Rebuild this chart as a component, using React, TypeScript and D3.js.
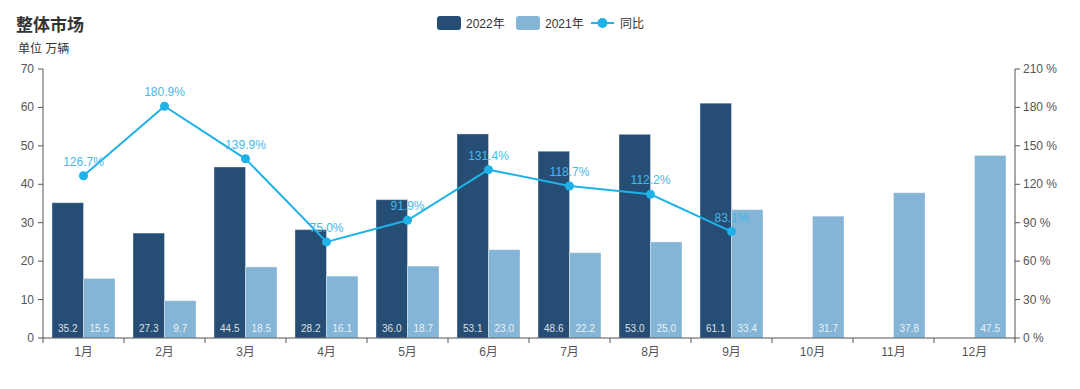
import React from "react";
import * as d3 from "d3";

const months = ["1月","2月","3月","4月","5月","6月","7月","8月","9月","10月","11月","12月"];
const sales2022: (number | null)[] = [35.2, 27.3, 44.5, 28.2, 36.0, 53.1, 48.6, 53.0, 61.1, null, null, null];
const sales2021 = [15.5, 9.7, 18.5, 16.1, 18.7, 23.0, 22.2, 25.0, 33.4, 31.7, 37.8, 47.5];
const yoy = [126.7, 180.9, 139.9, 75.0, 91.9, 131.4, 118.7, 112.2, 83.1];
const leftTicks = [0, 10, 20, 30, 40, 50, 60, 70];
const rightTicks = [0, 30, 60, 90, 120, 150, 180, 210];

const W = 1080, H = 389;
const M = { left: 43, right: 1015, top: 69, bottom: 338 };
const C22 = "#264e75";
const C21 = "#84b5d6";
const CL = "#1fb2e8";
const FONT = "'Liberation Sans', 'Noto Sans CJK SC', sans-serif";

export default function App() {
  const x = d3.scaleBand<string>().domain(months).range([M.left, M.right]).paddingInner(0).paddingOuter(0);
  const yL = d3.scaleLinear().domain([0, 70]).range([M.bottom, M.top]);
  const yR = d3.scaleLinear().domain([0, 210]).range([M.bottom, M.top]);
  const bw = x.bandwidth();
  const pad = 9;
  const barW = (bw - 2 * pad) / 2;
  const line = d3.line<number>().x((_, i) => x(months[i])! + bw / 2).y(d => yR(d));
  const axisColor = "#555";

  return (
    <svg width={W} height={H} style={{ position: "absolute", left: 0, top: 0, fontFamily: FONT }}>
      <rect width={W} height={H} fill="#fff" />
      <text x={16} y={31} fontSize={17} fontWeight="bold" fill="#333" fontFamily="'Noto Sans CJK SC', sans-serif">整体市场</text>
      <text x={18} y={53} fontSize={12} fill="#333">单位 万辆</text>

      {/* legend */}
      <g fontSize={12} fill="#333">
        <rect x={437} y={16} width={24} height={14} rx={3} fill={C22} />
        <text x={466} y={27.5}>2022年</text>
        <rect x={516} y={16} width={24} height={14} rx={3} fill={C21} />
        <text x={545} y={27.5}>2021年</text>
        <line x1={591} x2={614} y1={23} y2={23} stroke={CL} strokeWidth={2} />
        <circle cx={602.5} cy={23} r={5} fill={CL} />
        <text x={620} y={27.5}>同比</text>
      </g>

      {/* bars */}
      {months.map((m, i) => {
        const x0 = x(m)! + pad;
        const v22 = sales2022[i];
        const v21 = sales2021[i];
        return (
          <g key={m}>
            {v22 != null && (
              <g>
                <rect x={x0} y={yL(v22)} width={barW} height={yL(0) - yL(v22)} fill={C22} stroke="#ffffff" strokeOpacity={0.35} strokeWidth={1} />
                <text x={x0 + barW / 2} y={M.bottom - 6} textAnchor="middle" fontSize={10} fill="#fff" fillOpacity={0.85}>{v22.toFixed(1)}</text>
              </g>
            )}
            <rect x={x0 + barW} y={yL(v21)} width={barW} height={yL(0) - yL(v21)} fill={C21} stroke="#ffffff" strokeOpacity={0.35} strokeWidth={1} />
            <text x={x0 + barW * 1.5} y={M.bottom - 6} textAnchor="middle" fontSize={10} fill="#fff" fillOpacity={0.85}>{v21.toFixed(1)}</text>
          </g>
        );
      })}

      {/* line */}
      <path d={line(yoy)!} fill="none" stroke={CL} strokeWidth={2} />
      {yoy.map((v, i) => (
        <g key={i}>
          <circle cx={x(months[i])! + bw / 2} cy={yR(v)} r={4.5} fill={CL} />
          <text x={x(months[i])! + bw / 2} y={yR(v) - 10} textAnchor="middle" fontSize={12} fill="#45b8ea">{v.toFixed(1)}%</text>
        </g>
      ))}

      {/* left axis */}
      <line x1={M.left} x2={M.left} y1={M.top} y2={M.bottom} stroke={axisColor} />
      {leftTicks.map(t => (
        <g key={t}>
          <line x1={M.left - 5} x2={M.left} y1={yL(t)} y2={yL(t)} stroke={axisColor} />
          <text x={M.left - 9} y={yL(t) + 4} textAnchor="end" fontSize={12} fill="#555">{t}</text>
        </g>
      ))}
      {/* right axis */}
      <line x1={M.right} x2={M.right} y1={M.top} y2={M.bottom} stroke={axisColor} />
      {rightTicks.map(t => (
        <g key={t}>
          <line x1={M.right} x2={M.right + 5} y1={yR(t)} y2={yR(t)} stroke={axisColor} />
          <text x={M.right + 8} y={yR(t) + 4} textAnchor="start" fontSize={12} fill="#555">{t} %</text>
        </g>
      ))}
      {/* bottom axis */}
      <line x1={M.left} x2={M.right} y1={M.bottom} y2={M.bottom} stroke={axisColor} />
      {months.map((m, i) => (
        <g key={m}>
          <line x1={x(m)!} x2={x(m)!} y1={M.bottom} y2={M.bottom + 5} stroke={axisColor} />
          {i === months.length - 1 && <line x1={M.right} x2={M.right} y1={M.bottom} y2={M.bottom + 5} stroke={axisColor} />}
          <text x={x(m)! + bw / 2} y={M.bottom + 18} textAnchor="middle" fontSize={12} fill="#555">{m}</text>
        </g>
      ))}
    </svg>
  );
}
